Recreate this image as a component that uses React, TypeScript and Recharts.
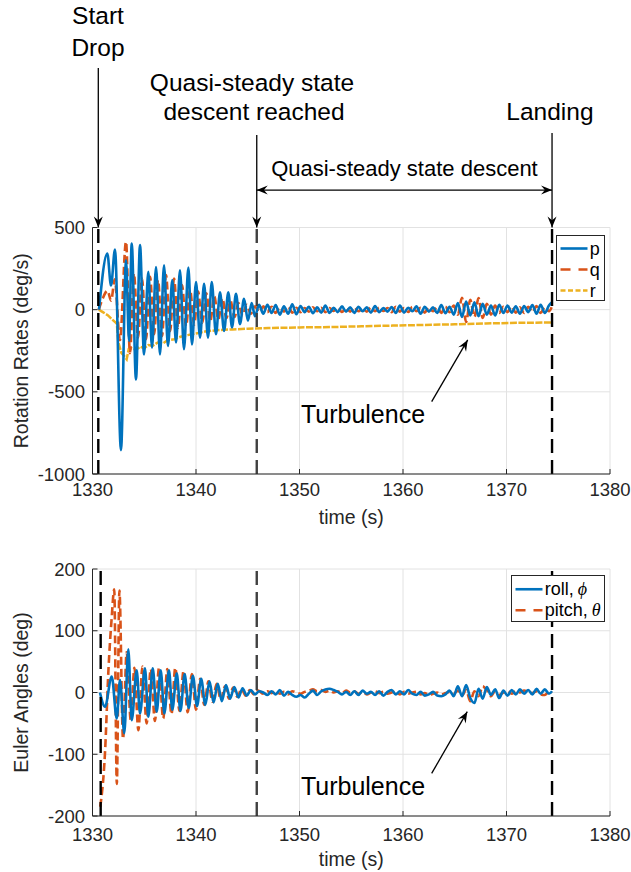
import React from "react";
import {
	LineChart,
	Line,
	XAxis,
	YAxis,
	CartesianGrid,
	ReferenceLine,
	ReferenceDot,
	Legend,
} from "recharts";

const BLUE = "#0072BD";
const ORANGE = "#D95319";
const YELLOW = "#EDB120";
const AXIS = "#262626";
const GRID = "#e2e2e2";
const FONT = '"Liberation Sans", Arial, Helvetica, sans-serif';

const X_TICKS = [1330, 1340, 1350, 1360, 1370, 1380];
const RATE_TICKS = [-1000, -500, 0, 500];
const ANGLE_TICKS = [-200, -100, 0, 100, 200];

// event times (s)
const T_START_TOP = 1330.56;
const T_START_BOTTOM = 1330.79;
const T_QUASI = 1345.87;
const T_LANDING = 1374.4;

// quasi-steady descent: samples every 0.4 s
const STEADY_T = Array.from({ length: 70 }, (_, i) => +(1346.5 + i * 0.4).toFixed(1));

// ---- rotation rates (deg/s) ----
const P_DROP_T = [1330.63, 1331.43, 1331.79, 1332.17, 1332.75, 1333.24, 1333.53, 1333.79, 1334.2, 1334.59, 1334.98, 1335.39, 1335.75, 1336.14, 1336.52, 1336.91, 1337.29, 1337.71, 1338.07, 1338.45, 1338.84, 1339.26, 1339.61, 1340.0, 1340.39, 1340.78, 1341.16, 1341.52, 1341.93, 1342.32, 1342.71, 1343.12, 1343.48, 1343.86, 1344.25, 1344.64, 1345.02, 1345.38, 1345.7, 1346.09];
const P_DROP = [0, 342, 147, 366, -855, 300, -190, 403, -425, 393, -272, 230, -231, 260, -272, 270, -221, 180, -200, 240, -241, 256, -211, 168, -170, 157, -170, 168, -150, 106, -129, 106, -108, 96, -88, 66, -67, 40, -40, 30];
const P_STEADY = [
	-25, 30, -20, 28, -30, 20, -25, 32, -28, 22,
	-15, 18, -22, 15, -18, 25, -20, 12, -15, 20,
	-12, 15, -20, 18, -10, 14, -18, 22, -15, 10,
	-12, 16, -20, 25, -18, 12, -10, 20, -25, 18,
	-12, 15, -20, 28, -22, 18, -30, 40, -45, 50,
	-35, 45, -40, 35, -30, 25, -35, 30, -20, 25,
	-18, 20, -25, 22, -15, 28, -25, 30, -20, 25,
];
const P_END = 45;

const Q_DROP_T = [1330.6, 1331.0, 1331.45, 1331.8, 1332.15, 1332.65, 1333.24, 1333.62, 1334.0, 1334.4, 1334.78, 1335.17, 1335.56, 1335.95, 1336.33, 1336.72, 1337.1, 1337.5, 1337.88, 1338.26, 1338.65, 1339.04, 1339.43, 1339.82, 1340.2, 1340.6, 1341.0, 1341.38, 1341.77, 1342.16, 1342.55, 1342.94, 1343.33, 1343.72, 1344.1, 1344.5, 1344.9, 1345.3, 1345.7, 1346.1];
const Q_DROP = [0, 70, 115, 55, 185, -185, 413, -265, 220, -170, 190, -180, 200, -150, 180, -160, 210, -130, 190, -110, 150, -100, 120, -90, 110, -80, 100, -70, 80, -60, 70, -50, 55, -45, 40, -35, 30, -25, 20, -15];
const Q_STEADY = [
	20, -15, 18, -20, 15, -12, 20, -18, 12, -15,
	10, -12, 15, -10, 12, -15, 10, -8, 12, -14,
	10, -12, 15, -10, 8, -12, 14, -10, 12, -8,
	10, -15, 18, -12, 10, -14, 16, -10, 12, -18,
	15, -10, 14, -20, 18, -15, 25, -30, 72, -75,
	60, -45, 70, -50, 35, -30, 25, -20, 18, -15,
	20, -18, 15, -20, 18, -15, 22, -20, 15, -10,
];
const Q_END = 20;

const R_T = [1330.6, 1331.0, 1331.5, 1331.9, 1332.35, 1332.5, 1332.8, 1333.1, 1333.3, 1333.5, 1333.8, 1334.2, 1334.6, 1335.0, 1335.4, 1335.8, 1336.3, 1336.8, 1337.3, 1337.9, 1338.5, 1339.2, 1340.0, 1341.0, 1342.0, 1343.5, 1345.0, 1347.0, 1350.0, 1353.0, 1356.0, 1359.0, 1362.0, 1365.0, 1368.0, 1371.0, 1374.4];
const R = [0, -15, -35, -60, -85, -200, -265, -285, -302, -240, -235, -245, -225, -235, -215, -220, -200, -205, -185, -180, -165, -155, -145, -132, -125, -120, -116, -112, -108, -106, -101, -97, -93, -89, -84, -80, -78];

// ---- Euler angles (deg) ----
const ROLL_DROP_T = [1330.72, 1331.21, 1331.86, 1332.34, 1332.66, 1333.07, 1333.46, 1333.79, 1334.27, 1334.59, 1335.07, 1335.39, 1335.82, 1336.2, 1336.59, 1336.94, 1337.39, 1337.71, 1338.14, 1338.5, 1338.9, 1339.3, 1339.7, 1340.1, 1340.5, 1340.9, 1341.3, 1341.7, 1342.1, 1342.5, 1342.9, 1343.3, 1343.7, 1344.1, 1344.5, 1344.9, 1345.3, 1345.7, 1346.1];
const ROLL_DROP = [0, -23, 26, -42, 20, -66, 70, -45, 36, -34, 39, -39, 39, -31, 36, -34, 36, -28, 31, -30, 30, -25, 27, -22, 22, -20, 18, -16, 14, -14, 12, -10, 9, -8, 7, -5, 4, -3, 2];
const ROLL_STEADY = [
	0, -4, 2, -3, 4, -5, 1, -4, -7, -4,
	-8, -2, 3, -4, 2, 5, 6, 4, 1, -3,
	1, -4, 2, -4, 3, -2, 1, -4, 2, -5,
	1, 4, -3, 2, -3, 4, -2, -4, 1, -5,
	-3, 1, -5, -6, -3, 3, -6, 10, -6, 12,
	-9, -17, 6, -10, 9, -4, 5, -9, 3, -5,
	4, -3, 5, -2, 4, -3, 6, -2, 5, -2,
];
const ROLL_END = 2;

const PITCH_DROP_T = [1330.75, 1331.2, 1331.55, 1331.85, 1332.1, 1332.35, 1332.6, 1332.95, 1333.3, 1333.7, 1334.05, 1334.43, 1334.83, 1335.23, 1335.63, 1336.03, 1336.43, 1336.83, 1337.23, 1337.63, 1338.0, 1338.4, 1338.8, 1339.2, 1339.6, 1340.0, 1340.4, 1340.8, 1341.2, 1341.6, 1342.0, 1342.4, 1342.8, 1343.2, 1343.6, 1344.0, 1344.4, 1344.8, 1345.2, 1345.6, 1346.0];
const PITCH_DROP = [-185, -100, 40, 120, 167, -148, 165, -75, 65, -45, 40, -61, 42, -50, 38, -46, 40, -42, 38, -35, 40, -30, 35, -32, 30, -28, 22, -20, 18, -15, 14, -12, 10, -10, 8, -7, 6, -5, 4, -3, 3];
const PITCH_STEADY = [
	-2, 2, -1, 3, -2, 1, -3, 2, 0, -2,
	1, 3, 5, 2, 4, 1, 3, 0, 2, -1,
	3, 0, 2, -2, 1, -3, 0, 2, -1, 1,
	-2, 0, 2, -3, 1, -2, 0, 1, -3, -1,
	-4, -2, 0, -3, -1, 1, -2, 3, -5, 4,
	-14, 2, -6, 10, 4, -6, 2, -4, 0, 3,
	-2, 2, 0, 3, 1, -1, 2, -3, -4, 1,
];
const PITCH_END = 0;

const pair = (t: number[], v: number[]) => t.map((x, i) => ({ t: x, v: v[i] }));
const series = (dropT: number[], drop: number[], steady: number[], end: number) => [
	...pair(dropT, drop),
	...pair(STEADY_T, steady),
	{ t: T_LANDING, v: end },
];

const P_DATA = series(P_DROP_T, P_DROP, P_STEADY, P_END);
const Q_DATA = series(Q_DROP_T, Q_DROP, Q_STEADY, Q_END);
const R_DATA = pair(R_T, R);
const ROLL_DATA = series(ROLL_DROP_T, ROLL_DROP, ROLL_STEADY, ROLL_END);
const PITCH_DATA = series(PITCH_DROP_T, PITCH_DROP, PITCH_STEADY, PITCH_END);

// arrowhead helper for annotation arrows
const head = (tx: number, ty: number, fx: number, fy: number) => {
	const len = Math.hypot(tx - fx, ty - fy) || 1;
	const ux = (tx - fx) / len;
	const uy = (ty - fy) / len;
	const L = 11;
	const W = 4.5;
	const pts = [
		[tx, ty],
		[tx - ux * L - uy * W, ty - uy * L + ux * W],
		[tx - ux * L * 0.65, ty - uy * L * 0.65],
		[tx - ux * L + uy * W, ty - uy * L - ux * W],
	];
	return <polygon points={pts.map((p) => p.join(",")).join(" ")} fill="#000" />;
};

const arrow = (both = false) => (props: any) => {
	const { x1, y1, x2, y2 } = props;
	return (
		<g>
			<line x1={x1} y1={y1} x2={x2} y2={y2} stroke="#000" strokeWidth={1.3} />
			{head(x2, y2, x1, y1)}
			{both && head(x1, y1, x2, y2)}
		</g>
	);
};

const note = (text: string, size: number, anchor: "start" | "middle" | "end" = "middle") => (p: any) => (
	<text x={p.cx} y={p.cy} fontSize={size} textAnchor={anchor} fill="#000">
		{text}
	</text>
);

const xTitle = (text: string, dy: number) => (p: any) => {
	const vb = p.viewBox;
	return (
		<text x={vb.x + vb.width / 2} y={vb.y + dy} fontSize={19.5} textAnchor="middle" fill={AXIS}>
			{text}
		</text>
	);
};

const yTitle = (text: string) => (p: any) => {
	const vb = p.viewBox;
	const cx = vb.x + vb.width - 65;
	const cy = vb.y + vb.height / 2;
	return (
		<text x={cx} y={cy} fontSize={19.5} textAnchor="middle" fill={AXIS} transform={`rotate(-90, ${cx}, ${cy})`}>
			{text}
		</text>
	);
};

type Entry = { label: React.ReactNode; color: string; dash?: string };

function LegendBox({ entries, width, height, rowH, padTop }: { entries: Entry[]; width: number; height: number; rowH: number; padTop: number }) {
	return (
		<div
			style={{
				width,
				height,
				boxSizing: "border-box",
				background: "#fff",
				border: `1px solid ${AXIS}`,
				paddingTop: padTop,
				fontFamily: FONT,
			}}
		>
			{entries.map((e, i) => (
				<div key={i} style={{ display: "flex", alignItems: "center", height: rowH }}>
					<svg width={33} height={rowH} style={{ flex: "none" }}>
						<line x1={3.5} x2={30.5} y1={rowH / 2} y2={rowH / 2} stroke={e.color} strokeWidth={2.6} strokeDasharray={e.dash} />
					</svg>
					<span style={{ fontSize: 18, lineHeight: 1, color: "#000", whiteSpace: "nowrap" }}>{e.label}</span>
				</div>
			))}
		</div>
	);
}

const greek = (s: string) => (
	<span style={{ fontFamily: '"Liberation Serif", "DejaVu Serif", serif', fontStyle: "italic", marginLeft: 4 }}>{s}</span>
);

const RATE_LEGEND: Entry[] = [
	{ label: "p", color: BLUE },
	{ label: "q", color: ORANGE, dash: "10 8" },
	{ label: "r", color: YELLOW, dash: "5 2.5" },
];
const ANGLE_LEGEND: Entry[] = [
	{ label: <>roll,{greek("ϕ")}</>, color: BLUE },
	{ label: <>pitch,{greek("θ")}</>, color: ORANGE, dash: "10 8" },
];

const tickStyle = { fill: AXIS, fontSize: 18.5 };

export default function App() {
	return (
		<div style={{ position: "absolute", left: 0, top: 0, width: 631, height: 872, background: "#fff", fontFamily: FONT }}>
			<div style={{ position: "absolute", left: 0, top: 0 }}>
				<LineChart width={631} height={540} margin={{ top: 227.5, right: 21, bottom: 36, left: 32.5 }}>
					<CartesianGrid stroke={GRID} />
					<XAxis
						dataKey="t"
						type="number"
						domain={[1330, 1380]}
						ticks={X_TICKS}
						interval={0}
						allowDataOverflow
						height={30}
						tickSize={-5}
						tickMargin={14}
						stroke={AXIS}
						tick={tickStyle}
						label={xTitle("time (s)", 50)}
					/>
					<XAxis xAxisId="top" orientation="top" dataKey="t" type="number" domain={[1330, 1380]} ticks={X_TICKS} height={0} tickSize={-5} tick={false} stroke={AXIS} />
					<YAxis
						type="number"
						domain={[-1000, 500]}
						ticks={RATE_TICKS}
						interval={0}
						allowDataOverflow
						width={60}
						tickSize={-5}
						tickMargin={12.5}
						stroke={AXIS}
						tick={tickStyle}
						label={yTitle("Rotation Rates (deg/s)")}
					/>
					<YAxis yAxisId="right" orientation="right" type="number" domain={[-1000, 500]} ticks={RATE_TICKS} width={0} tickSize={-5} tick={false} stroke={AXIS} />

					<Line data={R_DATA} dataKey="v" name="r" type="linear" stroke={YELLOW} strokeWidth={2.5} strokeDasharray="7 1.5" dot={false} isAnimationActive={false} />
					<Line data={Q_DATA} dataKey="v" name="q" type="monotone" stroke={ORANGE} strokeWidth={2.6} strokeDasharray="8 4" dot={false} isAnimationActive={false} />
					<Line data={P_DATA} dataKey="v" name="p" type="monotone" stroke={BLUE} strokeWidth={2.6} dot={false} isAnimationActive={false} />

					<ReferenceLine x={T_START_TOP} stroke="#000" strokeWidth={2.4} strokeDasharray="14 7" />
					<ReferenceLine x={T_QUASI} stroke="#404040" strokeWidth={2.4} strokeDasharray="14 7" />
					<ReferenceLine x={T_LANDING} stroke="#000" strokeWidth={2.4} strokeDasharray="14 7" />

					{/* annotations above the axes */}
					<ReferenceLine segment={[{ x: T_START_TOP, y: 1470 }, { x: T_START_TOP, y: 500 }]} ifOverflow="visible" shape={arrow()} />
					<ReferenceLine segment={[{ x: T_QUASI, y: 1063 }, { x: T_QUASI, y: 500 }]} ifOverflow="visible" shape={arrow()} />
					<ReferenceLine segment={[{ x: T_LANDING, y: 1075 }, { x: T_LANDING, y: 500 }]} ifOverflow="visible" shape={arrow()} />
					<ReferenceLine segment={[{ x: T_QUASI, y: 728 }, { x: T_LANDING, y: 728 }]} ifOverflow="visible" shape={arrow(true)} />
					<ReferenceDot x={1330.53} y={1738} ifOverflow="visible" shape={note("Start", 24.5)} />
					<ReferenceDot x={1330.53} y={1544} ifOverflow="visible" shape={note("Drop", 24.5)} />
					<ReferenceDot x={1345.41} y={1332} ifOverflow="visible" shape={note("Quasi-steady state", 24.5)} />
					<ReferenceDot x={1345.6} y={1154} ifOverflow="visible" shape={note("descent reached", 24.5)} />
					<ReferenceDot x={1374.2} y={1154} ifOverflow="visible" shape={note("Landing", 24.5)} />
					<ReferenceDot x={1360.14} y={815} ifOverflow="visible" shape={note("Quasi-steady state descent", 22)} />

					<ReferenceLine segment={[{ x: 1362.77, y: -560 }, { x: 1366.25, y: -184 }]} ifOverflow="visible" shape={arrow()} />
					<ReferenceDot x={1350.14} y={-689} ifOverflow="visible" shape={note("Turbulence", 25, "start")} />

					<Legend
						layout="vertical"
						align="center"
						verticalAlign="middle"
						wrapperStyle={{ left: 555.7, top: 235, width: 49, height: 66 }}
						content={() => <LegendBox entries={RATE_LEGEND} width={49} height={66} rowH={21} padTop={2} />}
					/>
				</LineChart>
			</div>

			<div style={{ position: "absolute", left: 0, top: 540 }}>
				<LineChart width={631} height={332} margin={{ top: 29, right: 21, bottom: 26, left: 32.5 }}>
					<CartesianGrid stroke={GRID} />
					<XAxis
						dataKey="t"
						type="number"
						domain={[1330, 1380]}
						ticks={X_TICKS}
						interval={0}
						allowDataOverflow
						height={30}
						tickSize={-5}
						tickMargin={16.5}
						stroke={AXIS}
						tick={tickStyle}
						label={xTitle("time (s)", 49.5)}
					/>
					<XAxis xAxisId="top" orientation="top" dataKey="t" type="number" domain={[1330, 1380]} ticks={X_TICKS} height={0} tickSize={-5} tick={false} stroke={AXIS} />
					<YAxis
						type="number"
						domain={[-200, 200]}
						ticks={ANGLE_TICKS}
						interval={0}
						allowDataOverflow
						width={60}
						tickSize={-5}
						tickMargin={12.5}
						stroke={AXIS}
						tick={tickStyle}
						label={yTitle("Euler Angles (deg)")}
					/>
					<YAxis yAxisId="right" orientation="right" type="number" domain={[-200, 200]} ticks={ANGLE_TICKS} width={0} tickSize={-5} tick={false} stroke={AXIS} />

					<Line data={PITCH_DATA} dataKey="v" name="pitch" type="monotone" stroke={ORANGE} strokeWidth={2.6} strokeDasharray="8 4" dot={false} isAnimationActive={false} />
					<Line data={ROLL_DATA} dataKey="v" name="roll" type="monotone" stroke={BLUE} strokeWidth={2.6} dot={false} isAnimationActive={false} />

					<ReferenceLine x={T_START_BOTTOM} stroke="#000" strokeWidth={2.4} strokeDasharray="14 7" />
					<ReferenceLine x={T_QUASI} stroke="#404040" strokeWidth={2.4} strokeDasharray="14 7" />
					<ReferenceLine x={T_LANDING} stroke="#000" strokeWidth={2.4} strokeDasharray="14 7" />

					<ReferenceLine segment={[{ x: 1362.77, y: -131 }, { x: 1366.21, y: -31 }]} ifOverflow="visible" shape={arrow()} />
					<ReferenceDot x={1350.14} y={-166} ifOverflow="visible" shape={note("Turbulence", 25, "start")} />

					<Legend
						layout="vertical"
						align="center"
						verticalAlign="middle"
						wrapperStyle={{ left: 510.7, top: 35, width: 94, height: 47 }}
						content={() => <LegendBox entries={ANGLE_LEGEND} width={94} height={47} rowH={20.5} padTop={3} />}
					/>
				</LineChart>
			</div>
		</div>
	);
}
